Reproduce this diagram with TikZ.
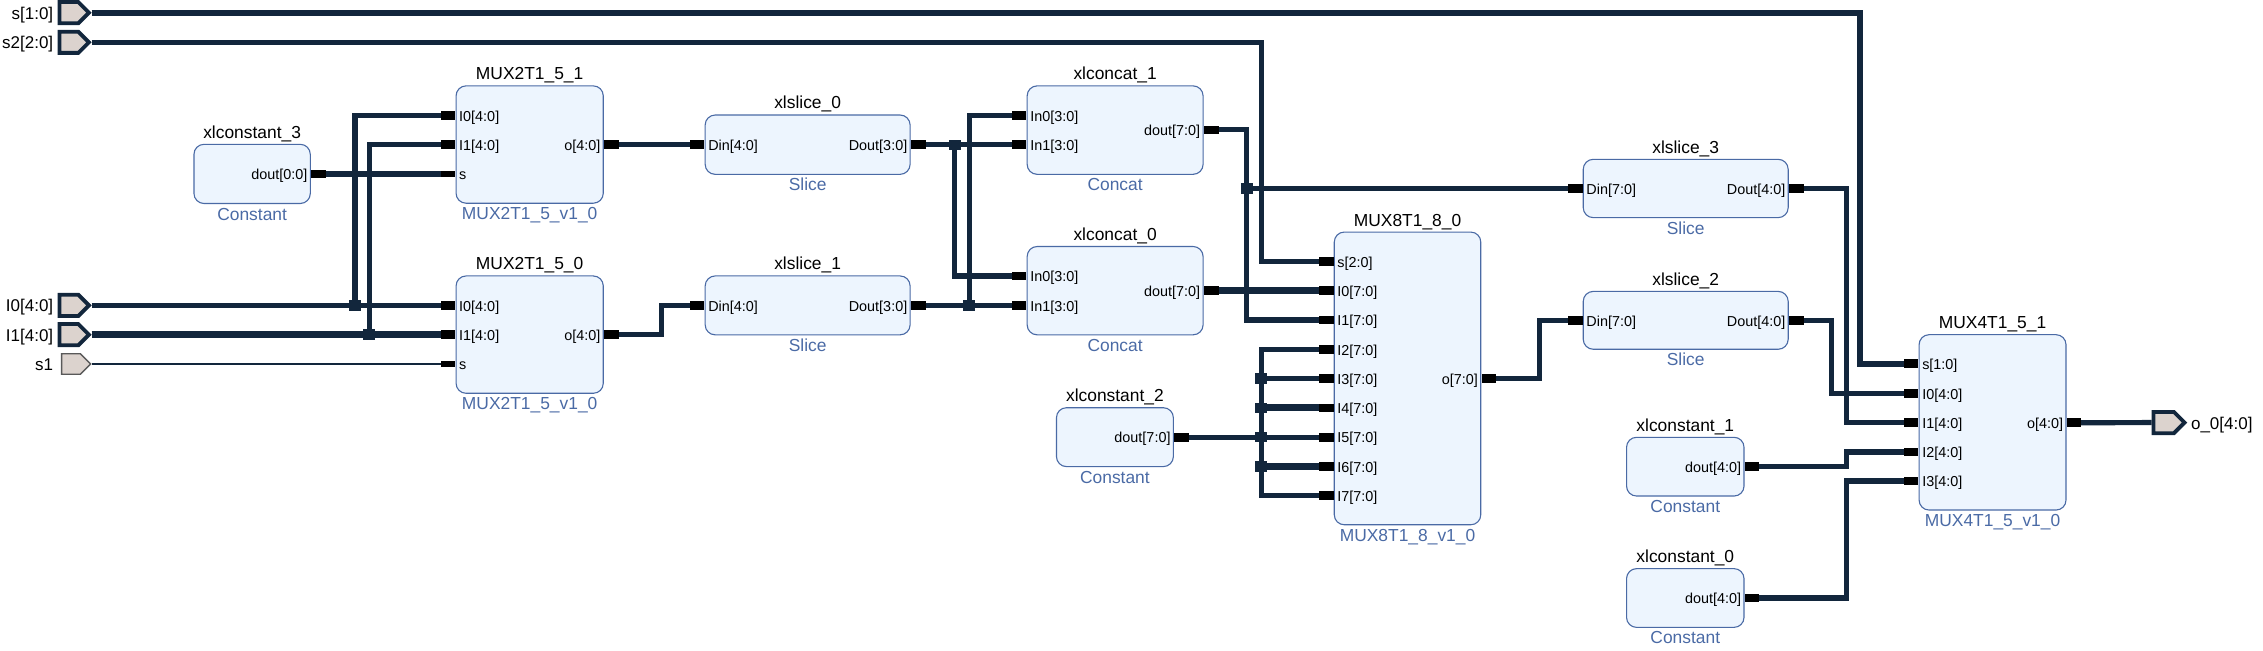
\documentclass[tikz,border=0pt]{standalone}
\usepackage{fontspec}
\setmainfont{Liberation Sans}
\usetikzlibrary{fit,shapes.symbols}
\pgfdeclarelayer{wires}\pgfsetlayers{wires,main}
\definecolor{navy}{HTML}{12263C}
\definecolor{boxedge}{HTML}{4A6AA5}
\definecolor{boxfill}{HTML}{EDF5FE}
\definecolor{portfill}{HTML}{DCD3CE}
\tikzset{
 block/.style={draw=boxedge,fill=boxfill,line width=1.1pt,rounded corners=10pt,inner sep=0pt},
 blocktitle/.style={font=\fontsize{17.4}{17.4}\selectfont,text=black,inner sep=0pt,anchor=base},
 blocksub/.style={font=\fontsize{17.4}{17.4}\selectfont,text=boxedge,inner sep=0pt,anchor=base},
 pinlabel/.style={font=\fontsize{14.4}{14.4}\selectfont,text=black,inner sep=0pt},
 stub/.style={fill=black,draw=none,minimum width=14.7pt,minimum height=8.7pt,inner sep=0pt},
 thinstub/.style={stub,minimum height=6pt},
 junc/.style={fill=navy,draw=none,minimum width=12pt,minimum height=10.5pt,inner sep=0pt},
 bus/.style={draw=navy,line width=5.2pt},
 busmid/.style={draw=navy,line width=5.8pt},
 busthick/.style={draw=navy,line width=6.8pt},
 net/.style={draw=navy,line width=1.2pt},
 portbus/.style={signal,signal to=east,signal pointer angle=90,draw=navy,fill=portfill,line width=3.8pt,minimum width=29.5pt,minimum height=21.2pt,inner sep=0pt,anchor=east},
 portnet/.style={signal,signal to=east,signal pointer angle=90,draw=gray!70!black,fill=portfill,line width=1.4pt,minimum width=29pt,minimum height=20.5pt,inner sep=0pt,anchor=east},
 portlabel/.style={font=\fontsize{17}{17}\selectfont,text=black,inner sep=0pt},
}
\newcommand\blk[8]{% name x1 y1 x2 y2 title subtitle (unused)
 \node[block,fit={(#2,#3)(#4,#5)}] (#1) {};
 \node[blocktitle] (#1title) at ([yshift=5.5pt]#1.north) {#6};
 \node[blocksub] (#1sub) at ([yshift=-16pt]#1.south) {#7};}
\newcommand\pinin[5][stub]{%
 \node[#1,anchor=east] (#2) at (#3.west |- 0,#4) {};
 \node[pinlabel,anchor=base west] (#2label) at ([xshift=3.5pt,yshift=-5.8pt]#3.west |- 0,#4) {#5};}
\newcommand\pinout[4]{%
 \node[stub,anchor=west] (#1) at (#2.east |- 0,#3) {};
 \node[pinlabel,anchor=base east] (#1label) at ([xshift=-3.2pt,yshift=-5.8pt]#2.east |- 0,#3) {#4};}
\newcommand\port[4][portbus]{%
 \node[#1] (#2) at (63.5,#3) {};
 \node[portlabel,anchor=base east] (#2label) at ([yshift=-6.5pt]37,#3) {#4};}
\begin{document}
\begin{tikzpicture}[x=1.4432pt,y=-1.4432pt]
\useasboundingbox (0,0) rectangle (1568,451);
% ports
\port{ps}{8.8}{s[1:0]}
\port{pstwo}{29.3}{s2[2:0]}
\port{piz}{211.6}{I0[4:0]}
\port{pio}{231.9}{I1[4:0]}
\port[portnet]{psone}{252.2}{s1}
% blocks
\blk{mone}{316}{59.5}{418}{140.8}{MUX2T1\_5\_1}{MUX2T1\_5\_v1\_0}{}
\blk{mzero}{316}{191.2}{418}{272.5}{MUX2T1\_5\_0}{MUX2T1\_5\_v1\_0}{}
\blk{cthree}{134.4}{100}{215}{141}{xlconstant\_3}{Constant}{}
\blk{szero}{488.6}{79.7}{630.6}{120.8}{xlslice\_0}{Slice}{}
\blk{sone}{488.6}{191.2}{630.6}{232}{xlslice\_1}{Slice}{}
\blk{cconc}{711.7}{59.5}{833.6}{120.8}{xlconcat\_1}{Concat}{}
\blk{zconc}{711.7}{170.8}{833.6}{232}{xlconcat\_0}{Concat}{}
\blk{meight}{924.5}{160.8}{1026}{363.6}{MUX8T1\_8\_0}{MUX8T1\_8\_v1\_0}{}
\blk{ctwo}{732}{282.5}{813}{323.3}{xlconstant\_2}{Constant}{}
\blk{sthree}{1097}{110.4}{1239}{150.8}{xlslice\_3}{Slice}{}
\blk{stwo}{1097}{201.9}{1239}{242}{xlslice\_2}{Slice}{}
\blk{cone}{1127}{303}{1208.4}{343.7}{xlconstant\_1}{Constant}{}
\blk{czero}{1127}{394}{1208.4}{434.7}{xlconstant\_0}{Constant}{}
\blk{mfour}{1329.7}{231.9}{1431.5}{353.4}{MUX4T1\_5\_1}{MUX4T1\_5\_v1\_0}{}
% pins
\pinin{moneIz}{mone}{80}{I0[4:0]}
\pinin{moneIo}{mone}{100.3}{I1[4:0]}
\pinin[thinstub]{mones}{mone}{120.5}{s}
\pinout{moneO}{mone}{100.3}{o[4:0]}
\pinin{mzeroIz}{mzero}{211.6}{I0[4:0]}
\pinin{mzeroIo}{mzero}{231.9}{I1[4:0]}
\pinin[thinstub]{mzeros}{mzero}{252.2}{s}
\pinout{mzeroO}{mzero}{231.9}{o[4:0]}
\pinout{cthreeO}{cthree}{120.5}{dout[0:0]}
\pinin{szeroI}{szero}{100.3}{Din[4:0]}
\pinout{szeroO}{szero}{100.3}{Dout[3:0]}
\pinin{soneI}{sone}{211.6}{Din[4:0]}
\pinout{soneO}{sone}{211.6}{Dout[3:0]}
\pinin{cconcIz}{cconc}{80}{In0[3:0]}
\pinin{cconcIo}{cconc}{100.3}{In1[3:0]}
\pinout{cconcO}{cconc}{90}{dout[7:0]}
\pinin{zconcIz}{zconc}{191.3}{In0[3:0]}
\pinin{zconcIo}{zconc}{211.6}{In1[3:0]}
\pinout{zconcO}{zconc}{201.4}{dout[7:0]}
\pinin{ms}{meight}{181.1}{s[2:0]}
\pinin{mIz}{meight}{201.4}{I0[7:0]}
\pinin{mIo}{meight}{221.7}{I1[7:0]}
\pinin{mIb}{meight}{242}{I2[7:0]}
\pinin{mIc}{meight}{262.3}{I3[7:0]}
\pinin{mId}{meight}{282.6}{I4[7:0]}
\pinin{mIe}{meight}{302.9}{I5[7:0]}
\pinin{mIf}{meight}{323.2}{I6[7:0]}
\pinin{mIg}{meight}{343.5}{I7[7:0]}
\pinout{mO}{meight}{262.3}{o[7:0]}
\pinout{ctwoO}{ctwo}{302.9}{dout[7:0]}
\pinin{sthreeI}{sthree}{130.7}{Din[7:0]}
\pinout{sthreeO}{sthree}{130.7}{Dout[4:0]}
\pinin{stwoI}{stwo}{222}{Din[7:0]}
\pinout{stwoO}{stwo}{222}{Dout[4:0]}
\pinout{coneO}{cone}{323.3}{dout[4:0]}
\pinout{czeroO}{czero}{414.4}{dout[4:0]}
\pinin{fs}{mfour}{252}{s[1:0]}
\pinin{fIz}{mfour}{272.5}{I0[4:0]}
\pinin{fIo}{mfour}{292.9}{I1[4:0]}
\pinin{fIb}{mfour}{313.2}{I2[4:0]}
\pinin{fIc}{mfour}{333.3}{I3[4:0]}
\pinout{fO}{mfour}{292.9}{o[4:0]}
% output port
\node[portbus,minimum width=31pt] (pout) at (1515.5,292.8) {};
\node[portlabel,anchor=base west] (poutlabel) at ([yshift=-6.5pt]1518,292.8) {o\_0[4:0]};
% junctions
\node[junc] (jiz) at (246,211.6) {};
\node[junc] (jio) at (256,231.9) {};
\node[junc] (jsz) at (661.5,100.3) {};
\node[junc] (jso) at (671.7,211.6) {};
\node[junc] (jcc) at (864,130.7) {};
\node[junc] (jmc) at (874,262.3) {};
\node[junc] (jmd) at (874,282.6) {};
\node[junc] (jme) at (874,302.9) {};
\node[junc] (jmf) at (874,323.2) {};
% routing elbows
\coordinate (e1) at (1288.8,8.8);
\coordinate (e2) at (874,29.3);
\coordinate (e3) at (458.2,231.9);
\coordinate (e4) at (863.7,90);
\coordinate (e5) at (1066.8,262.3);
\coordinate (e6) at (1279.5,130.7);
\coordinate (e7) at (1269,222);
\coordinate (e8) at (1279.5,323.3);
\coordinate (e9) at (1279.5,414.4);
\begin{pgfonlayer}{wires}
\draw[busmid] (ps.east) -| (e1) |- (fs.center);
\draw[bus] (pstwo.east) -| (e2) |- (ms.center);
\draw[bus] (piz.east) -- (mzeroIz.center);
\draw[busthick] (pio.east) -- (mzeroIo.center);
\draw[net] (psone.east) -- (mzeros.center);
\draw[bus] (jiz.center) |- (moneIz.center);
\draw[bus] (jio.center) |- (moneIo.center);
\draw[busthick] (cthreeO.center) -- (mones.center);
\draw[bus] (moneO.center) -- (szeroI.center);
\draw[bus] (mzeroO.center) -| (e3) |- (soneI.center);
\draw[bus] (szeroO.center) -- (cconcIo.center);
\draw[bus] (soneO.center) -- (zconcIo.center);
\draw[bus] (jsz.center) |- (zconcIz.center);
\draw[bus] (jso.center) |- (cconcIz.center);
\draw[bus] (cconcO.center) -| (e4) |- (mIo.center);
\draw[bus] (jcc.center) -- (sthreeI.center);
\draw[busthick] (zconcO.center) -- (mIz.center);
\draw[bus] (mO.center) -| (e5) |- (stwoI.center);
\draw[bus] (ctwoO.center) -- (mIe.center);
\draw[bus] (mIb.center) -| (jmc.center);
\draw[bus] (jmc.center) -- (jmd.center) -- (jme.center) -- (jmf.center);
\draw[bus] (jmf.center) |- (mIg.center);
\draw[bus] (jmc.center) -- (mIc.center);
\draw[busthick] (jmd.center) -- (mId.center);
\draw[busthick] (jmf.center) -- (mIf.center);
\draw[bus] (sthreeO.center) -| (e6) |- (fIo.center);
\draw[bus] (stwoO.center) -| (e7) |- (fIz.center);
\draw[bus] (coneO.center) -| (e8) |- (fIb.center);
\draw[bus] (czeroO.center) -| (e9) |- (fIc.center);
\draw[bus] (fO.center) -- (pout.west);
\end{pgfonlayer}
\end{tikzpicture}
\end{document}
